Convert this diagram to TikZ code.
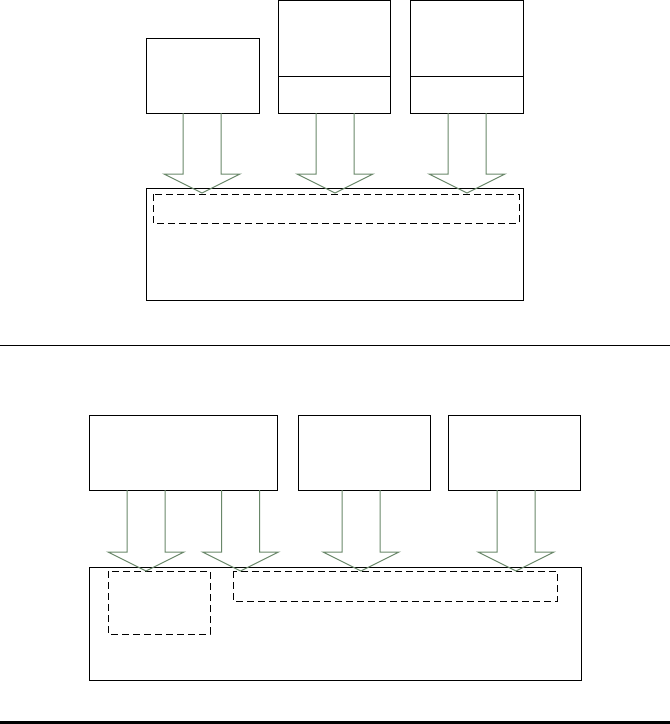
\documentclass[tikz,border=0pt]{standalone}
\definecolor{arrcol}{RGB}{105,135,105}
\tikzset{
  box/.style={draw=black, line width=1pt, inner sep=0pt, anchor=north west},
  dbox/.style={draw=black, line width=1pt, dash pattern=on 7pt off 4pt},
  arr/.style={draw=arrcol, line width=1pt, line join=miter},
}
\newcommand\blockarrow[4]{%
  \draw[arr] ({#1-19},#2) -- ({#1-19},#3) -- ({#1-38},#3) -- (#1,#4) -- ({#1+38},#3) -- ({#1+19},#3) -- ({#1+19},#2);}
\begin{document}
\begin{tikzpicture}[x=1pt,y=-1pt]
\useasboundingbox (0,0) rectangle (670,724);
% top section
\node[box, minimum width=113pt, minimum height=75pt] (A) at (146,38) {};
\node[box, minimum width=112pt, minimum height=113pt] (B) at (278,0) {};
\node[box, minimum width=113pt, minimum height=113pt] (C) at (410,0) {};
\draw[line width=1pt] (B.west |- 0,76) -- (B.east |- 0,76);
\draw[line width=1pt] (C.west |- 0,76) -- (C.east |- 0,76);
\node[box, minimum width=377pt, minimum height=112pt] (T) at (146,188) {};
\draw[dbox] (153,194) rectangle (519,223);
\blockarrow{202}{113}{174}{193}
\blockarrow{335}{113}{174}{193}
\blockarrow{467}{113}{174}{193}
\coordinate (l1a) at (0,345);
\coordinate (l1b) at (670,345);
\draw[line width=1pt] (l1a) -- (l1b);
% bottom section
\node[box, minimum width=188pt, minimum height=75pt] (D) at (89,415) {};
\node[box, minimum width=132pt, minimum height=75pt] (E) at (298,415) {};
\node[box, minimum width=132pt, minimum height=75pt] (F) at (448,415) {};
\node[box, minimum width=492pt, minimum height=113pt] (S) at (89,567) {};
\draw[dbox] (108,571) rectangle (210,634);
\draw[dbox] (233,571) rectangle (557,601);
\blockarrow{146}{490}{552}{571}
\blockarrow{240.5}{490}{552}{571}
\blockarrow{361}{490}{552}{571}
\blockarrow{516}{490}{552}{571}
\coordinate (l2a) at (0,722.5);
\coordinate (l2b) at (670,722.5);
\draw[line width=2.5pt] (l2a) -- (l2b);
\end{tikzpicture}
\end{document}
